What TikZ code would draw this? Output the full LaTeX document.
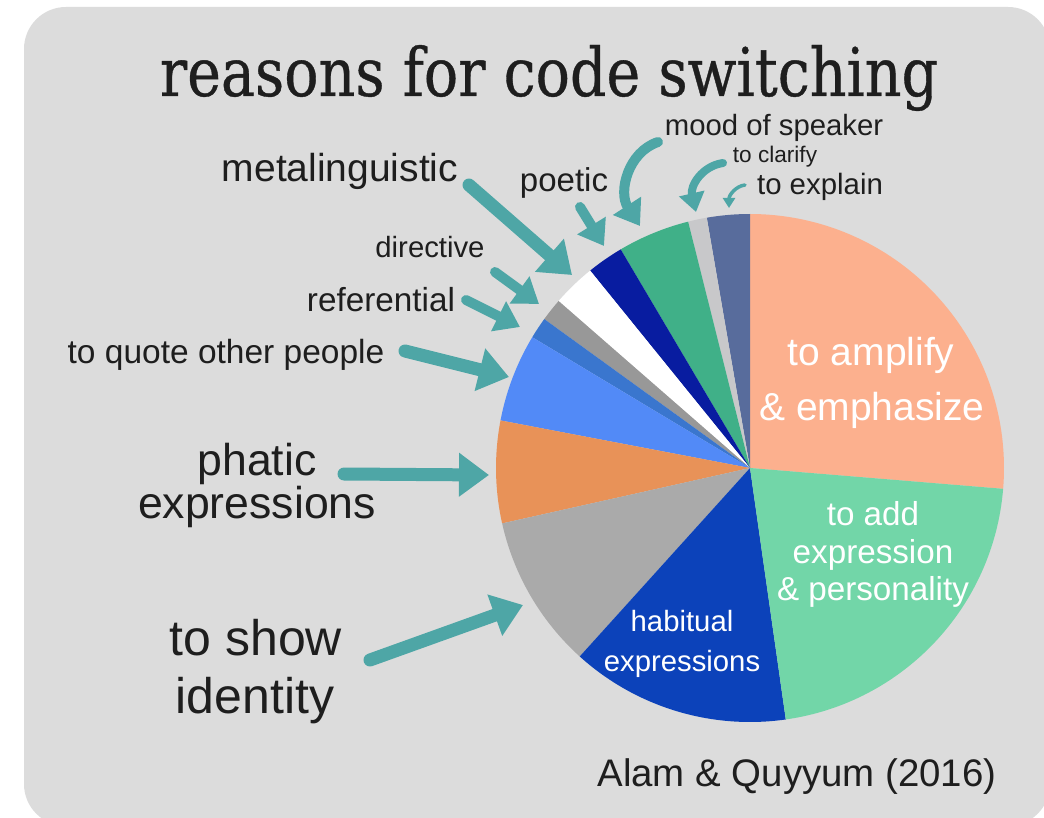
\documentclass[tikz,border=0pt]{standalone}
\usepackage{graphicx}
\usepackage{fontspec}
\setmainfont{Liberation Sans}
\newfontfamily\titlefont[FakeBold=0.6]{DejaVu Serif}
\usetikzlibrary{arrows.meta}
\definecolor{bg}{RGB}{220,220,220}
\definecolor{txt}{RGB}{30,30,30}
\definecolor{teal1}{RGB}{78,166,166}
\definecolor{amp}{RGB}{252,176,142}
\definecolor{addc}{RGB}{114,214,168}
\definecolor{habit}{RGB}{12,66,186}
\definecolor{ident}{RGB}{170,170,170}
\definecolor{phat}{RGB}{232,146,88}
\definecolor{quote}{RGB}{82,138,247}
\definecolor{refc}{RGB}{58,118,206}
\definecolor{direc}{RGB}{152,152,152}
\definecolor{metac}{RGB}{255,255,255}
\definecolor{poet}{RGB}{8,28,160}
\definecolor{moodc}{RGB}{64,176,136}
\definecolor{clar}{RGB}{200,200,202}
\definecolor{expl}{RGB}{88,108,156}
\newcommand{\fsz}[1]{\fontsize{#1pt}{#1pt}\selectfont}
\tikzset{
  lbl/.style={anchor=base, inner sep=0pt, text=txt},
  inlbl/.style={anchor=base, inner sep=0pt, text=white},
  bigarrow/.style={draw=teal1, line width=13pt, line cap=round, -{Triangle[width=42pt,length=30pt]}},
  midarrow/.style={draw=teal1, line width=10pt, line cap=round, -{Triangle[width=32pt,length=24pt]}},
  smallarrow/.style={draw=teal1, line width=8pt, line cap=round, -{Triangle[width=25pt,length=19pt]}},
  tinyarrow/.style={draw=teal1, line width=3.5pt, line cap=round, -{Triangle[width=12pt,length=10pt]}},
}
\begin{document}
\begin{tikzpicture}[x=1pt,y=-1pt]
\useasboundingbox (0,0) rectangle (1044,818);
\fill[white] (0,0) rectangle (1044,818);
\fill[bg, rounded corners=42pt] (24,7) rectangle (1050,826);

% title
\node[anchor=base, inner sep=0pt, text=txt] (title) at (549,96)
  {\resizebox{778pt}{51pt}{\titlefont reasons for code switching}};

% pie
\begin{scope}[shift={(750,468)}]
  \foreach \a/\b/\c in {-4.7/90/amp, 90/99.8/expl, 99.8/104.1/clar, 104.1/120.6/moodc,
      120.6/129/poet, 129/138.9/metac, 138.9/144.1/direc, 144.1/149/refc,
      149/169.2/quote, 169.2/192.6/phat, 192.6/227.9/ident, 227.9/278.1/habit,
      278.1/355.3/addc}
    \fill[\c] (0pt,0pt) -- (\a:254pt) arc[start angle=\a, end angle=\b, radius=254pt] -- cycle;
\end{scope}

% labels inside pie
\node[inlbl, font=\fsz{39}] (amp1) at (871,365) {to amplify};
\node[inlbl, font=\fsz{39}] (amp2) at (872,420) {\& emphasize};
\node[inlbl, font=\fsz{33.2}] (add1) at (873,525) {to add};
\node[inlbl, font=\fsz{33.2}] (add2) at (873,563) {expression};
\node[inlbl, font=\fsz{33.2}] (add3) at (873,600) {\& personality};
\node[inlbl, font=\fsz{29.3}] (hab1) at (682,631) {habitual};
\node[inlbl, font=\fsz{29.3}] (hab2) at (682,671) {expressions};

% outside labels
\node[lbl, font=\fsz{39}] (metaL) at (340,182) {metalinguistic};
\node[lbl, font=\fsz{33}] (poetL) at (564,192) {poetic};
\node[lbl, font=\fsz{29.3}] (moodL) at (774,136) {mood of speaker};
\node[lbl, font=\fsz{22.6}] (clarL) at (775,163) {to clarify};
\node[lbl, font=\fsz{29.4}] (explL) at (820,195) {to explain};
\node[lbl, font=\fsz{29.3}] (direL) at (430,258) {directive};
\node[lbl, font=\fsz{33.3}] (refL) at (381,312) {referential};
\node[lbl, font=\fsz{33.5}] (quoteL) at (226,363) {to quote other people};
\node[lbl, font=\fsz{44.6}] (phatL1) at (257,475) {phatic};
\node[lbl, font=\fsz{44.6}] (phatL2) at (257,518) {expressions};
\node[lbl, font=\fsz{50}] (idL1) at (256,655) {to show};
\node[lbl, font=\fsz{50}] (idL2) at (255,713) {identity};
\node[lbl, font=\fsz{38.4}] (cite) at (797,786) {Alam \& Quyyum (2016)};

% arrow end points
\coordinate (metaS) at (469,185);  \coordinate (metaT) at (572,275);
\coordinate (poetS) at (580,207);  \coordinate (poetT) at (604,246);
\coordinate (moodS) at (658,142);  \coordinate (moodT) at (640,226);
\coordinate (clarS) at (723,163);  \coordinate (clarT) at (696,212);
\coordinate (explS) at (745,185);  \coordinate (explT) at (729,208);
\coordinate (direS) at (495,272);  \coordinate (direT) at (539,304);
\coordinate (refS) at (466,300);   \coordinate (refT) at (520,327);
\coordinate (quoteS) at (405,351); \coordinate (quoteT) at (509,377);
\coordinate (phatS) at (344,474);  \coordinate (phatT) at (489,475);
\coordinate (idS) at (370,660);    \coordinate (idT) at (523,605);

\draw[bigarrow] (metaS) -- (metaT);
\draw[midarrow] (poetS) -- (poetT);
\draw[midarrow] (moodS) .. controls (628,152) and (618,192) .. (moodT);
\draw[smallarrow] (clarS) .. controls (702,166) and (690,186) .. (clarT);
\draw[tinyarrow] (explS) .. controls (736,186) and (729,195) .. (explT);
\draw[midarrow] (direS) -- (direT);
\draw[midarrow] (refS) -- (refT);
\draw[bigarrow] (quoteS) -- (quoteT);
\draw[bigarrow] (phatS) -- (phatT);
\draw[bigarrow] (idS) -- (idT);
\end{tikzpicture}
\end{document}
